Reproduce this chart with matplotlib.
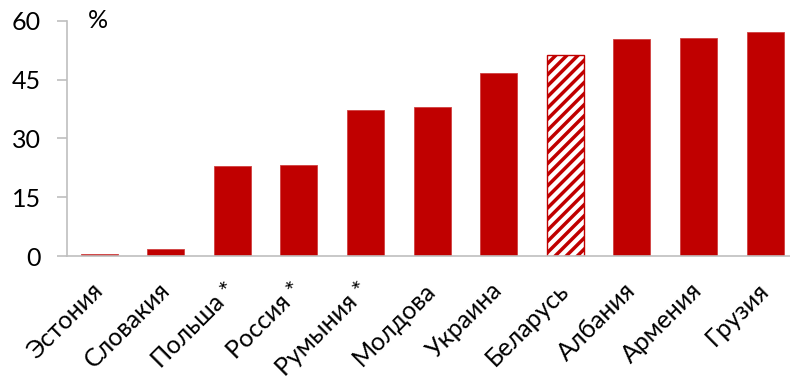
import matplotlib
matplotlib.use("Agg")
import matplotlib.pyplot as plt
import numpy as np

plt.rcParams['font.family'] = ['Lato', 'Open Sans', 'DejaVu Sans']
plt.rcParams['hatch.linewidth'] = 2.5

# доля по странам, %
strany = ['Эстония', 'Словакия', 'Польша *', 'Россия *', 'Румыния *', 'Молдова',
          'Украина', 'Беларусь', 'Албания', 'Армения', 'Грузия']
znacheniya = [0.6, 1.8, 23.1, 23.2, 37.4, 38.0, 46.8, 51.2, 55.3, 55.7, 57.1]
vydelit = 'Беларусь'

krasnyj = '#C00000'
seryj = '#BFBFBF'

fig = plt.figure(figsize=(7.9, 3.81), dpi=100)
ax = fig.add_axes([0.085, 0.328, 0.915, 0.617])

x = np.arange(len(strany))
for i, (s, v) in enumerate(zip(strany, znacheniya)):
    if s == vydelit:
        ax.bar(i, v, width=0.555, facecolor='white', edgecolor=krasnyj,
               hatch='///', linewidth=1.0)
    else:
        ax.bar(i, v, width=0.555, color=krasnyj, edgecolor='#D04040', linewidth=0.6)

ax.set_xlim(-0.48, len(strany) - 0.625)
ax.set_ylim(0, 60)
ax.set_yticks([0, 15, 30, 45, 60])
ax.set_xticks(x)
ax.set_xticklabels(strany, rotation=45, ha='right', va='center',
                   rotation_mode='anchor')

for sp in ['top', 'right']:
    ax.spines[sp].set_visible(False)
ax.spines['left'].set_color(seryj)
ax.spines['bottom'].set_color(seryj)
ax.spines['left'].set_linewidth(1.2)
ax.spines['bottom'].set_linewidth(1.2)
ax.tick_params(axis='y', length=7, width=1.2, color=seryj, labelsize=18, pad=12)
ax.tick_params(axis='x', length=0, labelsize=18, pad=22)

ax.text(0.043, 1.0, '%', transform=ax.transAxes, fontsize=18, va='center', ha='center')

fig.savefig('out.png', dpi=100)
